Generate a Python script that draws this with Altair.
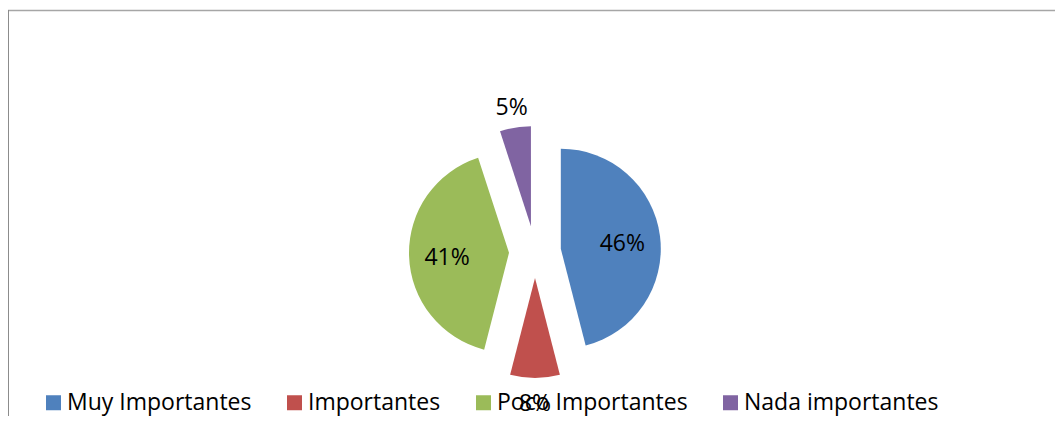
import altair as alt
import pandas as pd

categories = ["Muy Importantes", "Importantes", "Poco Importantes", "Nada importantes"]
values = [46, 8, 41, 5]
labels = ["46%", "8%", "41%", "5%"]
colors = ["#4F81BD", "#C0504D", "#9BBB59", "#8064A2"]

df = pd.DataFrame({"cat": categories, "value": values, "label": labels, "order": list(range(len(categories)))})

W, H = 1047, 408
CX, CY = 527, 244
EXPLODE = 26
R = 100
FONT = "Open Sans"

base = alt.Chart(df).transform_window(
    end="sum(value)", sort=[alt.SortField("order")], frame=[None, 0]
).transform_calculate(
    start="datum.end - datum.value",
    mid="(datum.end - datum.value / 2) / 100 * 2 * PI",
    cx=f"{EXPLODE} * sin(datum.mid)",
    cy=f"{EXPLODE} * cos(datum.mid)",
    lr="datum.value >= 10 ? 62 : 123",
    lx="datum.cx + datum.lr * sin(datum.mid)",
    ly="datum.cy + datum.lr * cos(datum.mid)",
)

xs = alt.Scale(domain=[-CX, W - CX], nice=False, zero=False)
ys = alt.Scale(domain=[-(H - CY), CY], nice=False, zero=False)

arcs = base.mark_arc(radius=R).encode(
    x=alt.X("cx:Q", scale=xs, axis=None),
    y=alt.Y("cy:Q", scale=ys, axis=None),
    theta=alt.Theta("start:Q", scale=alt.Scale(domain=[0, 100], nice=False)),
    theta2="end:Q",
    color=alt.Color(
        "cat:N",
        scale=alt.Scale(domain=categories, range=colors),
        legend=alt.Legend(
            title=None,
            orient="none",
            legendX=34,
            legendY=383,
            direction="horizontal",
            columns=4,
            columnPadding=31,
            symbolType="square",
            symbolSize=225,
            symbolStrokeWidth=0,
            labelFontSize=23,
            labelFont=FONT,
            labelColor="black",
            labelOffset=2,
            labelLimit=500,
            padding=0,
        ),
    ),
)

text = base.mark_text(fontSize=23, font=FONT, color="black", align="center", baseline="middle", dy=3).encode(
    x=alt.X("lx:Q", scale=xs, axis=None),
    y=alt.Y("ly:Q", scale=ys, axis=None),
    text="label:N",
)

dummy = pd.DataFrame({"a": [0]})
top = alt.Chart(dummy).mark_rule(color="#a6a6a6", strokeWidth=1.5).encode(
    x=alt.value(-1), x2=alt.value(W), y=alt.value(2.5)
)
left = alt.Chart(dummy).mark_rule(color="#8c8c8c", strokeWidth=2).encode(
    x=alt.value(0), y=alt.value(2), y2=alt.value(H)
)

chart = alt.layer(top, left, arcs, text).properties(
    width=W, height=H, autosize=alt.AutoSizeParams(type="none"), padding=0, background="white"
).configure_view(stroke=None)

chart.save("out.html", embed_options={"renderer": "svg", "actions": False})
